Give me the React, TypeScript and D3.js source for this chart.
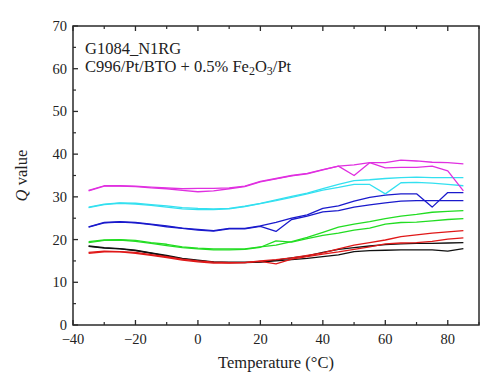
import * as d3 from 'd3';
import * as React from "react";

// temperatures (°C), one reading every 5 degrees
const temps = [-35, -30, -25, -20, -15, -10, -5, 0, 5, 10, 15, 20, 25, 30, 35, 40, 45, 50, 55, 60, 65, 70, 75, 80, 85];

const magentaA = [31.5, 32.6, 32.6, 32.5, 32.3, 32.1, 31.9, 32.0, 32.0, 32.1, 32.5, 33.6, 34.3, 35.0, 35.5, 36.4, 37.2, 37.5, 38.0, 38.0, 38.6, 38.4, 38.1, 38.0, 37.7];
const magentaB = [31.4, 32.5, 32.5, 32.4, 32.1, 31.9, 31.5, 31.2, 31.4, 31.9, 32.4, 33.5, 34.2, 34.9, 35.4, 36.3, 37.2, 35.0, 38.0, 36.8, 36.9, 36.9, 37.2, 36.1, 31.4];
const cyanA = [27.6, 28.3, 28.6, 28.5, 28.2, 27.9, 27.5, 27.3, 27.2, 27.3, 27.8, 28.5, 29.3, 30.1, 30.9, 31.9, 32.9, 33.8, 34.0, 34.3, 34.5, 34.6, 34.5, 34.5, 34.5];
const cyanB = [27.5, 28.2, 28.5, 28.3, 28.0, 27.6, 27.2, 27.0, 27.0, 27.2, 27.7, 28.4, 29.1, 29.9, 30.7, 31.6, 32.2, 32.9, 32.9, 30.7, 33.3, 33.4, 33.2, 32.9, 32.6];
const blueA = [23.0, 24.0, 24.2, 24.0, 23.6, 23.2, 22.7, 22.4, 22.1, 22.6, 22.6, 23.2, 24.0, 25.0, 25.8, 27.3, 27.9, 29.0, 29.9, 30.4, 30.7, 30.7, 27.6, 31.0, 31.0];
const blueB = [22.9, 23.9, 24.1, 23.9, 23.5, 23.0, 22.6, 22.2, 22.0, 22.5, 22.5, 23.1, 21.9, 24.7, 25.5, 26.5, 26.8, 27.6, 28.1, 28.6, 29.0, 29.1, 29.1, 29.1, 29.1];
const greenA = [19.5, 19.9, 20.0, 19.8, 19.3, 18.9, 18.3, 18.0, 17.8, 17.8, 17.8, 18.3, 18.7, 19.5, 20.5, 21.7, 22.9, 23.6, 24.2, 24.9, 25.5, 25.9, 26.4, 26.6, 26.8];
const greenB = [19.3, 19.8, 19.9, 19.6, 19.1, 18.6, 18.1, 17.8, 17.6, 17.6, 17.7, 18.2, 19.7, 19.4, 20.2, 21.0, 21.5, 22.2, 22.7, 23.6, 24.0, 24.1, 24.4, 24.7, 24.9];
const redA = [17.0, 17.3, 17.2, 17.0, 16.5, 16.0, 15.4, 15.0, 14.7, 14.6, 14.6, 15.0, 15.3, 15.7, 16.3, 16.9, 17.8, 18.7, 19.3, 19.9, 20.7, 21.1, 21.5, 21.8, 22.1];
const redB = [16.8, 17.1, 17.1, 16.8, 16.3, 15.8, 15.2, 14.8, 14.5, 14.5, 14.6, 14.9, 14.3, 15.4, 16.0, 16.6, 17.1, 17.7, 18.3, 19.0, 19.2, 19.3, 19.6, 20.1, 20.4];
const blackA = [18.5, 18.1, 17.9, 17.5, 16.9, 16.3, 15.6, 15.2, 14.8, 14.7, 14.7, 14.8, 15.2, 15.7, 16.2, 17.0, 17.7, 18.1, 18.5, 18.8, 19.0, 19.1, 19.1, 19.2, 19.3];
const blackB = [18.4, 18.0, 17.8, 17.4, 16.8, 16.1, 15.5, 15.0, 14.7, 14.6, 14.6, 14.7, 15.0, 15.3, 15.6, 16.0, 16.4, 17.2, 17.4, 17.5, 17.6, 17.6, 17.6, 17.3, 17.9];

const xTicks = [-40, -20, 0, 20, 40, 60, 80];
const yTicks = [0, 10, 20, 30, 40, 50, 60, 70];

const series = [
    { values: blackA, color: "#111111" },
    { values: blackB, color: "#111111" },
    { values: redA, color: "#e01818" },
    { values: redB, color: "#e01818" },
    { values: greenA, color: "#22dd22" },
    { values: greenB, color: "#22dd22" },
    { values: blueA, color: "#1a1acc" },
    { values: blueB, color: "#1a1acc" },
    { values: cyanA, color: "#33e0f0" },
    { values: cyanB, color: "#33e0f0" },
    { values: magentaA, color: "#e030e0" },
    { values: magentaB, color: "#e030e0" },
];

const margin = { top: 26, right: 21, bottom: 67, left: 73 };
const W = 500, H = 392;
const width = W - margin.left - margin.right;
const height = H - margin.top - margin.bottom;

const font = "'Liberation Serif', 'Times New Roman', serif";

export default function App() {
    const x = d3.scaleLinear().domain([-40, 90]).range([0, width]);
    const y = d3.scaleLinear().domain([0, 70]).range([height, 0]);
    const line = d3.line<number>()
        .x((_, i) => x(temps[i]))
        .y(d => y(d));

    const xMinor = d3.range(-40, 91, 10).filter(v => v % 20 !== 0);
    const yMinor = d3.range(5, 70, 10);
    const axisColor = "#2a2a2a";

    return (
        <svg width={W} height={H} style={{ position: "absolute", left: 0, top: 0, background: "#fff" }}>
            <g transform={`translate(${margin.left},${margin.top})`}>
                {series.map((s, i) => (
                    <path key={i} d={line(s.values) ?? ""} fill="none" stroke={s.color} strokeWidth={1.3} strokeLinejoin="round" />
                ))}
                <rect x={0} y={0} width={width} height={height} fill="none" stroke={axisColor} strokeWidth={1.5} />
                {xTicks.map(t => (
                    <g key={t}>
                        <line x1={x(t)} x2={x(t)} y1={height} y2={height - 5} stroke={axisColor} strokeWidth={1.3} />
                        <line x1={x(t)} x2={x(t)} y1={0} y2={5} stroke={axisColor} strokeWidth={1.3} />
                        <text x={x(t)} y={height + 19} textAnchor="middle" fontFamily={font} fontSize={14.5} fill="#222">
                            {t < 0 ? `\u2212${-t}` : t}
                        </text>
                    </g>
                ))}
                {xMinor.map(t => (
                    <g key={t}>
                        <line x1={x(t)} x2={x(t)} y1={height} y2={height - 3} stroke={axisColor} strokeWidth={1.2} />
                        <line x1={x(t)} x2={x(t)} y1={0} y2={3} stroke={axisColor} strokeWidth={1.2} />
                    </g>
                ))}
                {yTicks.map(t => (
                    <g key={t}>
                        <line x1={0} x2={5} y1={y(t)} y2={y(t)} stroke={axisColor} strokeWidth={1.3} />
                        <text x={-6} y={y(t) + 5} textAnchor="end" fontFamily={font} fontSize={14.5} fill="#222">{t}</text>
                    </g>
                ))}
                {yMinor.map(t => (
                    <line key={t} x1={0} x2={3} y1={y(t)} y2={y(t)} stroke={axisColor} strokeWidth={1.2} />
                ))}
                <text x={12} y={28} fontFamily={font} fontSize={16.5} fill="#222">G1084_N1RG</text>
                <text x={12} y={46} fontFamily={font} fontSize={16.5} fill="#222">
                    C996/Pt/BTO + 0.5% Fe<tspan fontSize={12} dy={3}>2</tspan><tspan dy={-3}>O</tspan><tspan fontSize={12} dy={3}>3</tspan><tspan dy={-3}>/Pt</tspan>
                </text>
                <text x={width / 2} y={height + 43} textAnchor="middle" fontFamily={font} fontSize={16.5} fill="#222">
                    Temperature (°C)
                </text>
                <text transform={`translate(${-46},${height / 2}) rotate(-90)`} textAnchor="middle" fontFamily={font} fontSize={16.5} fill="#222">
                    <tspan fontStyle="italic">Q</tspan> value
                </text>
            </g>
        </svg>
    );
}
